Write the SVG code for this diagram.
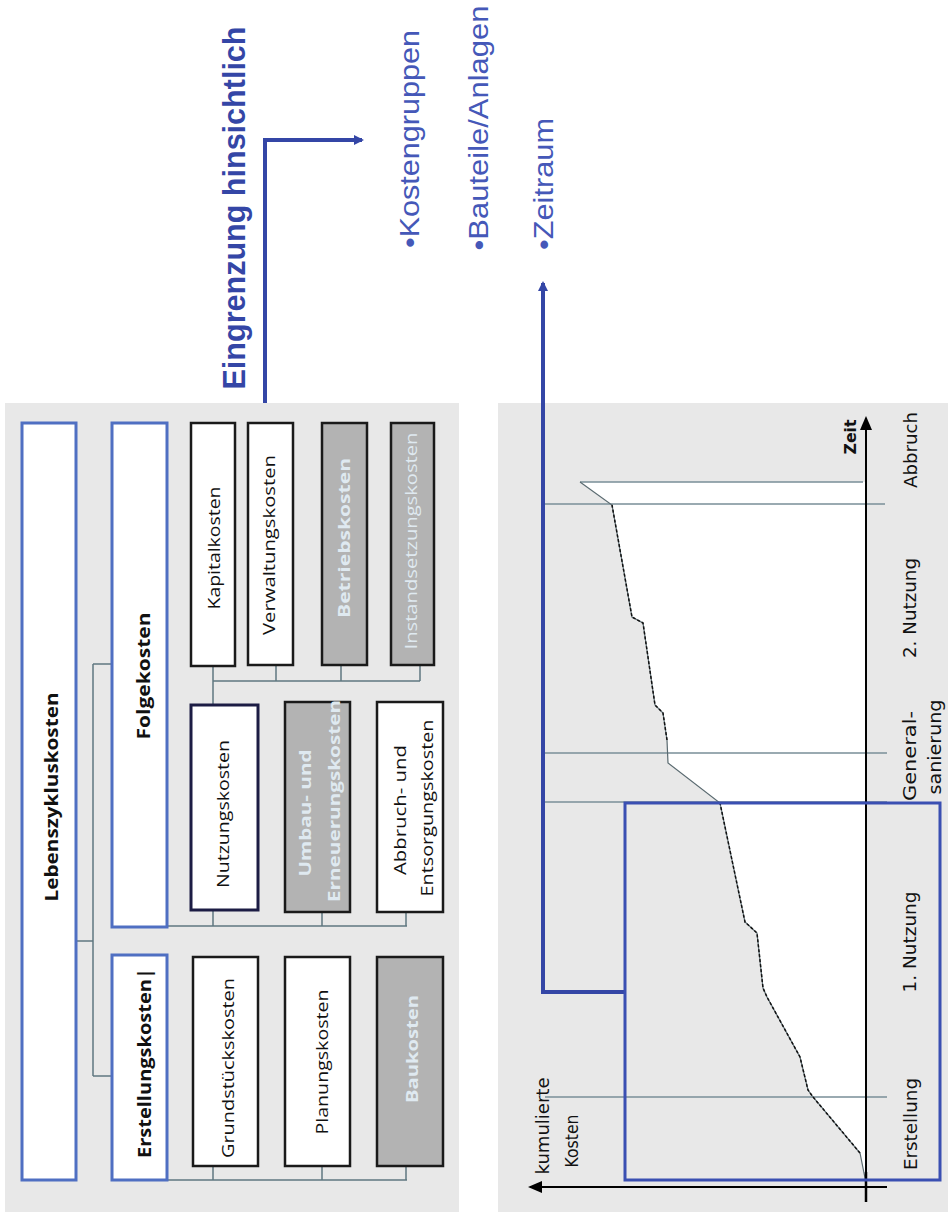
<svg xmlns="http://www.w3.org/2000/svg" width="948" height="1214" viewBox="0 0 948 1214">
<defs>
<style>
.panel{fill:#e8e8e8}
.bluebox{fill:#ffffff;stroke:#4f6fc2;stroke-width:3}
.box{fill:#ffffff;stroke:#1a1a1a;stroke-width:2.5}
.gbox{fill:#b3b3b3;stroke:#1a1a1a;stroke-width:2.5}
.t{font-family:"Open Sans","Noto Sans",sans-serif;font-size:16px;fill:#111;text-anchor:middle;dominant-baseline:central}
.tb{font-weight:bold;font-size:18px}
.tl{fill:#dfe9f0}
.conn{fill:none;stroke:#5f7780;stroke-width:1.5}
.blue{fill:none;stroke:#3446a6;stroke-width:4}
.ct{font-family:"DejaVu Sans","Liberation Sans",sans-serif;font-size:18px;fill:#111;text-anchor:middle;dominant-baseline:central}
.gl{fill:none;stroke:#7a8f98;stroke-width:1.5}
.bt{font-family:"Liberation Sans",Arial,sans-serif;fill:#4558b8;text-anchor:middle;dominant-baseline:central}
</style>
<marker id="ba" markerWidth="10" markerHeight="10" refX="8" refY="5" orient="auto" markerUnits="userSpaceOnUse" viewBox="0 0 10 10">
<path d="M0,0 L10,5 L0,10 Z" fill="#3446a6"/>
</marker>
<marker id="ka" markerWidth="14" markerHeight="12" refX="12" refY="6" orient="auto" markerUnits="userSpaceOnUse" viewBox="0 0 14 12">
<path d="M0,0 L14,6 L0,12 Z" fill="#000"/>
</marker>
</defs>
<rect width="948" height="1214" fill="#ffffff"/>

<!-- panels -->
<rect class="panel" x="5" y="403" width="454" height="809"/>
<rect class="panel" x="498" y="403" width="450" height="809"/>

<!-- connectors -->
<g id="connectors">
<path class="conn" d="M76,941 H93 M93,664 V1076 M93,664 H112 M93,1076 H112"/>
<path class="conn" d="M167,926 H407 M213,926 V910 M322,926 V912 M406,926 V912"/>
<path class="conn" d="M167,1180 H407 M213,1180 V1166 M322,1180 V1166 M406,1180 V1166"/>
<path class="conn" d="M213,705 V681 M213,681 H420 M213,681 V666 M276,681 V665 M341,681 V665 M420,681 V665"/>
<path class="blue" d="M265,403 V140 H362" marker-end="url(#ba)"/>
<path class="blue" d="M624,992 H543 V283" marker-end="url(#ba)"/>
</g>

<!-- hierarchy nodes -->
<g id="lebenszykluskosten">
<rect class="bluebox" x="22" y="423" width="54" height="757"/>
<text class="t tb" transform="translate(51,797) rotate(-90)" textLength="209" lengthAdjust="spacingAndGlyphs">Lebenszykluskosten</text>
</g>
<g id="folgekosten">
<rect class="bluebox" x="112" y="423" width="55" height="504"/>
<text class="t tb" transform="translate(143,676) rotate(-90)" textLength="127" lengthAdjust="spacingAndGlyphs">Folgekosten</text>
</g>
<g id="erstellungskosten">
<rect class="bluebox" x="112" y="955" width="55" height="225"/>
<text class="t tb" transform="translate(144,1063) rotate(-90)" textLength="190" lengthAdjust="spacingAndGlyphs">Erstellungskosten|</text>
</g>
<g id="kapitalkosten">
<rect class="box" x="191" y="423" width="44" height="243"/>
<text class="t" transform="translate(214,548) rotate(-90)" textLength="123" lengthAdjust="spacingAndGlyphs">Kapitalkosten</text>
</g>
<g id="verwaltungskosten">
<rect class="box" x="248" y="423" width="45" height="242"/>
<text class="t" transform="translate(269,545) rotate(-90)" textLength="180" lengthAdjust="spacingAndGlyphs">Verwaltungskosten</text>
</g>
<g id="betriebskosten">
<rect class="gbox" x="322" y="423" width="45" height="242"/>
<text class="t tb tl" style="font-size:16px" transform="translate(344,538) rotate(-90)" textLength="160" lengthAdjust="spacingAndGlyphs">Betriebskosten</text>
</g>
<g id="instandsetzungskosten">
<rect class="gbox" x="391" y="423" width="43" height="242"/>
<text class="t tl" transform="translate(411,541) rotate(-90)" textLength="217" lengthAdjust="spacingAndGlyphs">Instandsetzungskosten</text>
</g>
<g id="nutzungskosten">
<rect class="box" style="stroke:#1c1c44;stroke-width:3" x="191" y="705" width="67" height="205"/>
<text class="t" transform="translate(223,814) rotate(-90)" textLength="148" lengthAdjust="spacingAndGlyphs">Nutzungskosten</text>
</g>
<g id="umbaukosten">
<rect class="gbox" x="285" y="702" width="65" height="210"/>
<text class="t tb tl" style="font-size:16px" transform="translate(305,813) rotate(-90)" textLength="127" lengthAdjust="spacingAndGlyphs">Umbau- und</text>
<text class="t tb tl" style="font-size:16px" transform="translate(334,801) rotate(-90)" textLength="202" lengthAdjust="spacingAndGlyphs">Erneuerungskosten</text>
</g>
<g id="abbruchkosten">
<rect class="box" x="377" y="702" width="66" height="210"/>
<text class="t" transform="translate(400,810) rotate(-90)" textLength="130" lengthAdjust="spacingAndGlyphs">Abbruch- und</text>
<text class="t" transform="translate(427,808) rotate(-90)" textLength="177" lengthAdjust="spacingAndGlyphs">Entsorgungskosten</text>
</g>
<g id="grundstueckskosten">
<rect class="box" x="193" y="957" width="65" height="209"/>
<text class="t" transform="translate(228,1068) rotate(-90)" textLength="180" lengthAdjust="spacingAndGlyphs">Grundstückskosten</text>
</g>
<g id="planungskosten">
<rect class="box" x="285" y="957" width="65" height="209"/>
<text class="t" transform="translate(322,1062) rotate(-90)" textLength="145" lengthAdjust="spacingAndGlyphs">Planungskosten</text>
</g>
<g id="baukosten">
<rect class="gbox" x="377" y="957" width="66" height="209"/>
<text class="t tb tl" style="font-size:16px" transform="translate(412,1049) rotate(-90)" textLength="108" lengthAdjust="spacingAndGlyphs">Baukosten</text>
</g>

<!-- chart -->
<g id="chart">
<path d="M866,1186 L865,1178 L860,1153 L813,1097 L808,1090 L800,1057 L767,997 L763,988 L757,933 L745,922 L720,803 L668,763 L667,740 L663,713 L655,705 L643,623 L632,617 L612,505 L580,482 L866,482 Z" fill="#ffffff"/>
<path class="gl" d="M580,482 H863 M545,504 H885 M545,753 H887 M545,802 H887 M545,1097 H887"/>
<path d="M866,1186 L865,1178 L860,1153 L813,1097 L808,1090 L800,1057 L767,997 L763,988 L757,933 L745,922 L720,803 L668,763 L667,740 L663,713 L655,705 L643,623 L632,617 L612,505 L580,482" fill="none" stroke="#5a6a70" stroke-width="1.2"/>
<path d="M860,1153 L813,1097 L808,1090 L800,1057 L767,997 L763,988 L757,933 L745,922 L720,803 M667,740 L663,713 L655,705 L643,623 L632,617 L612,505" fill="none" stroke="#111" stroke-width="1.5" stroke-dasharray="3 2"/>
<path d="M887,1187 H530" fill="none" stroke="#000" stroke-width="2" marker-end="url(#ka)"/>
<path d="M866,1202 V418" fill="none" stroke="#000" stroke-width="2" marker-end="url(#ka)"/>
<path d="M866,1202 V1172" fill="none" stroke="#000" stroke-width="2.5"/>
<text class="ct" style="font-weight:bold;font-size:16px" transform="translate(850,437) rotate(-90)" textLength="35" lengthAdjust="spacingAndGlyphs">Zeit</text>
<text class="ct" transform="translate(910,450) rotate(-90)" textLength="76" lengthAdjust="spacingAndGlyphs">Abbruch</text>
<text class="ct" transform="translate(909,608) rotate(-90)" textLength="100" lengthAdjust="spacingAndGlyphs">2. Nutzung</text>
<text class="ct" transform="translate(909,756) rotate(-90)" textLength="90" lengthAdjust="spacingAndGlyphs">General-</text>
<text class="ct" transform="translate(934,747) rotate(-90)" textLength="95" lengthAdjust="spacingAndGlyphs">sanierung</text>
<text class="ct" transform="translate(909,942) rotate(-90)" textLength="101" lengthAdjust="spacingAndGlyphs">1. Nutzung</text>
<text class="ct" transform="translate(910,1124) rotate(-90)" textLength="92" lengthAdjust="spacingAndGlyphs">Erstellung</text>
<text class="ct" transform="translate(542,1126) rotate(-90)" textLength="97" lengthAdjust="spacingAndGlyphs">kumulierte</text>
<text class="ct" transform="translate(571,1141) rotate(-90)" textLength="53" lengthAdjust="spacingAndGlyphs">Kosten</text>
</g>
<g id="zeitraum-auswahl">
<rect x="625" y="803" width="315" height="377" fill="none" stroke="#3a4fb2" stroke-width="3"/>
</g>

<!-- right-side labels -->
<g id="eingrenzung">
<text class="bt" style="font-size:32px;font-weight:bold;fill:#3446a6" transform="translate(234,208) rotate(-90)" textLength="363" lengthAdjust="spacingAndGlyphs">Eingrenzung hinsichtlich</text>
</g>
<g id="kostengruppen">
<text class="bt" style="font-size:27px" transform="translate(410,139) rotate(-90)" textLength="218" lengthAdjust="spacingAndGlyphs">•Kostengruppen</text>
</g>
<g id="bauteile">
<text class="bt" style="font-size:27px" transform="translate(479,128) rotate(-90)" textLength="245" lengthAdjust="spacingAndGlyphs">•Bauteile/Anlagen</text>
</g>
<g id="zeitraum">
<text class="bt" style="font-size:27px" transform="translate(544,184) rotate(-90)" textLength="132" lengthAdjust="spacingAndGlyphs">•Zeitraum</text>
</g>
</svg>
